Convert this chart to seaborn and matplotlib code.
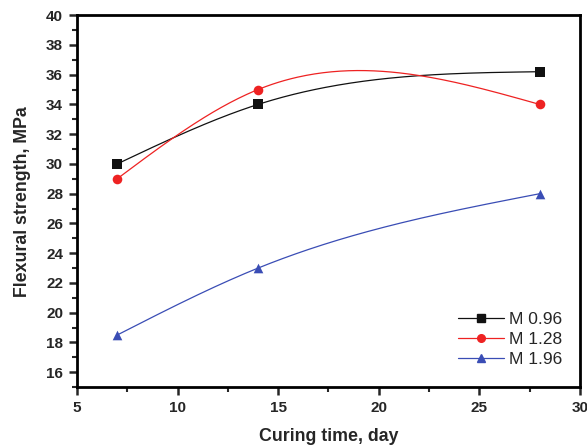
import numpy as np
import pandas as pd
import matplotlib
matplotlib.use("Agg")
import matplotlib.pyplot as plt
import seaborn as sns
from matplotlib.ticker import MultipleLocator

days = [7, 14, 28]
m096 = [30.0, 34.0, 36.2]
m128 = [29.0, 35.0, 34.0]
m196 = [18.5, 23.0, 28.0]
labels = ["M 0.96", "M 1.28", "M 1.96"]


def natural_spline(x, y, xs):
    x = np.asarray(x, float); y = np.asarray(y, float)
    n = len(x)
    h = np.diff(x)
    A = np.zeros((n, n)); r = np.zeros(n)
    A[0, 0] = 1; A[-1, -1] = 1
    for i in range(1, n - 1):
        A[i, i - 1] = h[i - 1]
        A[i, i] = 2 * (h[i - 1] + h[i])
        A[i, i + 1] = h[i]
        r[i] = 6 * ((y[i + 1] - y[i]) / h[i] - (y[i] - y[i - 1]) / h[i - 1])
    M = np.linalg.solve(A, r)
    out = np.empty_like(xs)
    for k, xv in enumerate(xs):
        i = min(np.searchsorted(x, xv, side="right") - 1, n - 2)
        i = max(i, 0)
        a = x[i + 1] - xv; b = xv - x[i]
        out[k] = (M[i] * a**3 + M[i + 1] * b**3) / (6 * h[i]) \
            + (y[i] / h[i] - M[i] * h[i] / 6) * a + (y[i + 1] / h[i] - M[i + 1] * h[i] / 6) * b
    return out


sns.set_style("white")
plt.rcParams['font.family'] = ['Liberation Sans', 'DejaVu Sans']

fig = plt.figure(figsize=(5.87, 4.46), dpi=100)
ax = fig.add_axes([0.131, 0.132, 0.857, 0.834])

colors = ["#111111", "#ee2222", "#3a4db5"]
markers = ["s", "o", "^"]
series = [m096, m128, m196]
xs = np.linspace(days[0], days[-1], 200)

for lab, ys, c, mk in zip(labels, series, colors, markers):
    curve = pd.DataFrame({"x": xs, "y": natural_spline(days, ys, xs)})
    sns.lineplot(data=curve, x="x", y="y", ax=ax, color=c, lw=0.9, legend=False)
    pts = pd.DataFrame({"x": days, "y": ys})
    sns.scatterplot(data=pts, x="x", y="y", ax=ax, color=c, marker=mk, s=48,
                    edgecolor=c, linewidth=0, legend=False, zorder=5)
    ax.plot([], [], color=c, lw=0.9, marker=mk, ms=5.5, label=lab)

ax.set_xlim(5, 30)
ax.set_ylim(15, 40)
ax.xaxis.set_major_locator(MultipleLocator(5))
ax.xaxis.set_minor_locator(MultipleLocator(2.5))
ax.set_yticks(np.arange(16, 41, 2))
ax.yaxis.set_minor_locator(MultipleLocator(1))
ax.tick_params(axis="both", which="major", direction="out", length=6, width=1.8,
               labelsize=11, pad=4, bottom=True, left=True, top=False, right=False)
ax.tick_params(axis="both", which="minor", direction="out", length=3.5, width=1.5,
               bottom=True, left=True, top=False, right=False)
for t in ax.get_xticklabels() + ax.get_yticklabels():
    t.set_fontweight("bold")
for s in ax.spines.values():
    s.set_linewidth(2.0)
    s.set_color("black")

ax.set_xlabel("Curing time, day", fontsize=12.8, fontweight="bold", labelpad=9)
ax.set_ylabel("Flexural strength, MPa", fontsize=12.8, fontweight="bold", labelpad=11)

ax.legend(loc="lower right", bbox_to_anchor=(0.985, 0.025), frameon=False, fontsize=12.5,
          handlelength=2.6, handletextpad=0.3, labelspacing=0.3, borderaxespad=0.2)

fig.savefig("out.png", dpi=100)
